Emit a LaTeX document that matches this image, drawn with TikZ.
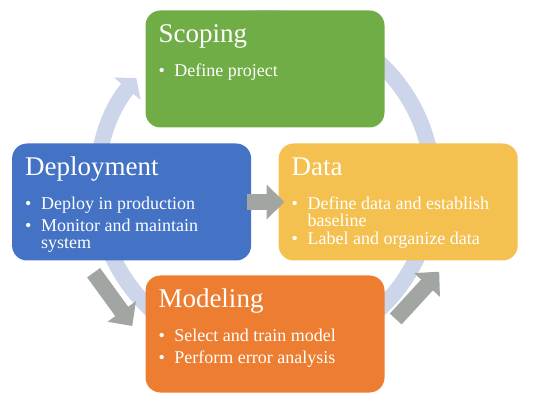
\documentclass[tikz,border=0pt]{standalone}
\usepackage{fontspec}
\setmainfont{Liberation Serif}
\usepackage{array}
\usetikzlibrary{arrows.meta}

\definecolor{scopegreen}{HTML}{70AD47}
\definecolor{deplblue}{HTML}{4472C4}
\definecolor{datayellow}{HTML}{F4C150}
\definecolor{modelorange}{HTML}{ED7D31}
\definecolor{ringblue}{HTML}{CDD5EA}
\definecolor{arrowgray}{HTML}{A2A6A3}

\tikzset{
	stagebox/.style={rounded corners=15pt, minimum width=239pt, minimum height=117pt, inner sep=0pt},
	stagetitle/.style={anchor=base west, inner sep=0pt, text=white, font=\fontsize{27}{30}\selectfont},
	stageitems/.style={anchor=base west, inner sep=0pt, text=white, font=\fontsize{18}{17.5}\selectfont},
	blockarrow/.style={arrowgray, line width=16pt, -{Triangle[width=34pt,length=18pt]}}
}
\newcommand{\stagelist}[1]{\begin{tabular}[t]{@{}p{16pt}@{}>{\raggedright\arraybackslash}p{195pt}@{}}#1\end{tabular}}

\begin{document}
\begin{tikzpicture}[x=1pt,y=1pt]
		\useasboundingbox (0,0) rectangle (533,-406);
		
		% cycle ring behind the stages
		\coordinate (hub) at (265,-186);
		\draw[ringblue, line width=16pt, -{Triangle[width=34pt,length=14pt]}] (hub) ++(100:168) arc[start angle=100, end angle=-220, radius=168];
		
		\node[stagebox, fill=scopegreen] (scope) at (265,-69) {};
		\node[stagebox, fill=deplblue] (depl) at (131.6,-202) {};
		\node[stagebox, fill=datayellow] (data) at (398.2,-202) {};
		\node[stagebox, fill=modelorange] (model) at (265,-334) {};
		
		\foreach \s/\t in {scope/Scoping, depl/Deployment, data/Data, model/Modeling}{
			\node[stagetitle] (\s-title) at ([shift={(13pt,-32.5pt)}]\s.north west) {\t};
		}
		\node[stageitems] (scope-items) at ([shift={(13pt,-66pt)}]scope.north west) {\stagelist{\textbullet & Define project}};
		\node[stageitems] (depl-items) at ([shift={(13pt,-66pt)}]depl.north west) {\stagelist{\textbullet & Deploy in production\\[4pt] \textbullet & Monitor and maintain system}};
		\node[stageitems] (data-items) at ([shift={(13pt,-66pt)}]data.north west) {\stagelist{\textbullet & Define data and establish baseline\\[4pt] \textbullet & Label and organize data}};
		\node[stageitems] (model-items) at ([shift={(13pt,-66pt)}]model.north west) {\stagelist{\textbullet & Select and train model\\[4pt] \textbullet & Perform error analysis}};
		
		\draw[blockarrow] ([xshift=-4pt]depl.east) -- ([xshift=6pt]data.west);
		\draw[blockarrow] ([shift={(-38pt,-12pt)}]depl.south) -- ([shift={(-13pt,8pt)}]model.west);
		\draw[blockarrow] ([shift={(11pt,15pt)}]model.east) -- ([shift={(41pt,-11pt)}]data.south);
\end{tikzpicture}
\end{document}
